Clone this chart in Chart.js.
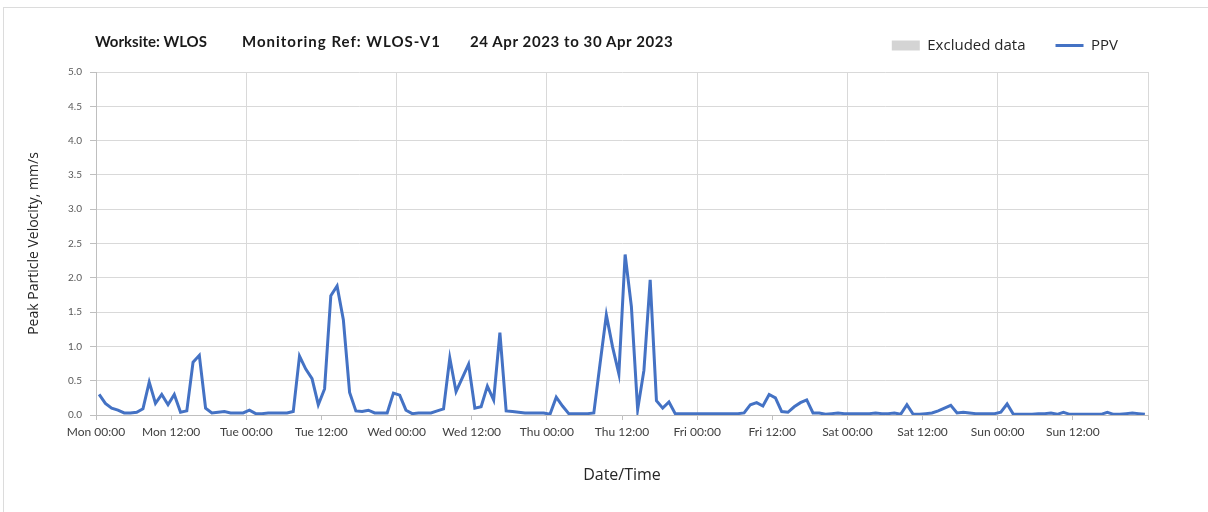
<!DOCTYPE html>
<html lang="en">
<head>
  <meta charset="UTF-8">
  <title>WLOS-V1 PPV</title>
  <script src="https://cdn.jsdelivr.net/npm/chart.js"></script>
  <style>
    body {
      margin: 0;
      background-color: white;
      font-family: Lato, sans-serif;
    }
    .frame {
      position: absolute;
      left: 3px;
      top: 7px;
      width: 1240px;
      height: 540px;
      border: 1px solid #dcdcdc;
    }
    .chart-box {
      position: absolute;
      left: 0;
      top: 0;
      width: 1208px;
      height: 512px;
    }
    .title span {
      position: absolute;
      top: 32px;
      font: bold 15px Lato, sans-serif;
      color: #1a1a1a;
      white-space: pre;
    }
  </style>
</head>
<body>
  <div class="frame"></div>
  <div class="chart-box">
    <canvas id="ppvChart"></canvas>
  </div>
  <div class="title">
    <span style="left:95px">Worksite: WLOS</span>
    <span style="left:242px; letter-spacing:1px">Monitoring Ref: WLOS-V1</span>
    <span style="left:470px; letter-spacing:0.6px">24 Apr 2023 to 30 Apr 2023</span>
  </div>

  <script>
    // hourly PPV readings, mm/s (one array per day, 00:00 - 23:00)
    const mon = [0.30, 0.17, 0.10, 0.07, 0.03, 0.03, 0.04, 0.09, 0.48, 0.17, 0.30, 0.15,
                 0.30, 0.04, 0.06, 0.77, 0.87, 0.10, 0.03, 0.04, 0.05, 0.03, 0.03, 0.03];
    const tue = [0.07, 0.02, 0.02, 0.03, 0.03, 0.03, 0.03, 0.05, 0.86, 0.67, 0.53, 0.15,
                 0.38, 1.74, 1.88, 1.39, 0.33, 0.06, 0.05, 0.07, 0.03, 0.03, 0.03, 0.32];
    const wed = [0.29, 0.07, 0.02, 0.03, 0.03, 0.03, 0.06, 0.09, 0.83, 0.34, 0.54, 0.74,
                 0.10, 0.12, 0.42, 0.22, 1.20, 0.06, 0.05, 0.04, 0.03, 0.03, 0.03, 0.03];
    const thu = [0.01, 0.26, 0.13, 0.02, 0.02, 0.02, 0.02, 0.03, 0.75, 1.46, 0.99, 0.60,
                 2.34, 1.58, 0.08, 0.65, 1.97, 0.21, 0.10, 0.19, 0.02, 0.02, 0.02, 0.02];
    const fri = [0.02, 0.02, 0.02, 0.02, 0.02, 0.02, 0.02, 0.03, 0.15, 0.18, 0.13, 0.30,
                 0.25, 0.05, 0.04, 0.12, 0.18, 0.22, 0.03, 0.03, 0.01, 0.02, 0.03, 0.02];
    const sat = [0.02, 0.02, 0.02, 0.02, 0.03, 0.02, 0.02, 0.03, 0.01, 0.15, 0.01, 0.01,
                 0.02, 0.03, 0.06, 0.10, 0.14, 0.03, 0.04, 0.03, 0.02, 0.02, 0.02, 0.02];
    const sun = [0.04, 0.16, 0.01, 0.01, 0.01, 0.01, 0.02, 0.02, 0.03, 0.01, 0.04, 0.01,
                 0.01, 0.01, 0.01, 0.01, 0.01, 0.04, 0.01, 0.01, 0.02, 0.03, 0.02, 0.01];

    const tickLabels = ['Mon 00:00', 'Mon 12:00', 'Tue 00:00', 'Tue 12:00', 'Wed 00:00', 'Wed 12:00',
                        'Thu 00:00', 'Thu 12:00', 'Fri 00:00', 'Fri 12:00', 'Sat 00:00', 'Sat 12:00',
                        'Sun 00:00', 'Sun 12:00', ''];

    const ppv = [].concat(mon, tue, wed, thu, fri, sat, sun);
    // each reading sits in the middle of its hour slot
    const points = ppv.map((v, i) => ({ x: i + 0.5, y: v }));

    const lineColor = '#4472C4';
    const gridColor = '#d9d9d9';
    const axisColor = '#bfbfbf';

    // make the legend box taller so the plot starts lower
    const legendHeight = {
      id: 'legendHeight',
      beforeLayout(chart) {
        if (!chart.legend || chart.legend._patched) return;
        const fit = chart.legend.fit;
        chart.legend.fit = function () {
          fit.call(this);
          this.height = 64;
        };
        chart.legend._patched = true;
      }
    };

    new Chart(document.getElementById('ppvChart'), {
      type: 'line',
      data: {
        datasets: [
          {
            label: 'Excluded data',
            data: [],
            pointStyle: 'rect',
            backgroundColor: '#d4d4d4',
            pointBackgroundColor: '#d4d4d4',
            pointBorderWidth: 0,
            borderWidth: 0
          },
          {
            label: 'PPV',
            data: points,
            borderColor: lineColor,
            backgroundColor: lineColor,
            borderWidth: 3,
            pointRadius: 0,
            pointStyle: 'line',
            pointBorderColor: lineColor,
            pointBorderWidth: 3,
            tension: 0
          }
        ]
      },
      options: {
        responsive: true,
        maintainAspectRatio: false,
        animation: false,
        layout: { padding: { top: 8, right: 60, left: 0, bottom: 0 } },
        plugins: {
          legend: {
            position: 'top',
            align: 'end',
            labels: {
              usePointStyle: true,
              pointStyleWidth: 28,
              boxHeight: 10,
              padding: 30,
              color: '#262626',
              font: { family: 'Open Sans', size: 15 }
            }
          },
          tooltip: { enabled: false }
        },
        scales: {
          x: {
            type: 'linear',
            min: 0,
            max: 168,
            afterBuildTicks: (scale) => {
              scale.ticks = tickLabels.map((_, i) => ({ value: i * 12 }));
            },
            afterFit: (scale) => { scale.height = 97; },
            ticks: {
              autoSkip: false,
              maxRotation: 0,
              padding: 5,
              color: '#404040',
              font: { family: 'Lato', size: 12 },
              callback: (v) => tickLabels[Math.round(v / 12)]
            },
            grid: {
              color: (ctx) => (ctx.tick && ctx.tick.value % 24 === 0) ? gridColor : 'rgba(0,0,0,0)',
              tickColor: axisColor,
              tickLength: 5
            },
            border: { color: axisColor },
            title: {
              display: true,
              text: 'Date/Time',
              color: '#262626',
              font: { family: 'Open Sans', size: 16 },
              padding: { top: 0, bottom: 27 }
            }
          },
          y: {
            min: 0,
            max: 5,
            afterFit: (scale) => { scale.width = 96; },
            ticks: {
              stepSize: 0.5,
              padding: 8,
              color: '#595959',
              font: { family: 'Lato', size: 10 },
              callback: (v) => v.toFixed(1)
            },
            grid: {
              color: gridColor,
              tickColor: axisColor,
              tickLength: 6
            },
            border: { color: axisColor },
            title: {
              display: true,
              text: 'Peak Particle Velocity, mm/s',
              color: '#262626',
              font: { family: 'Open Sans', size: 14 },
              padding: { top: 26, bottom: 0 }
            }
          }
        }
      },
      plugins: [legendHeight]
    });
  </script>
</body>
</html>
